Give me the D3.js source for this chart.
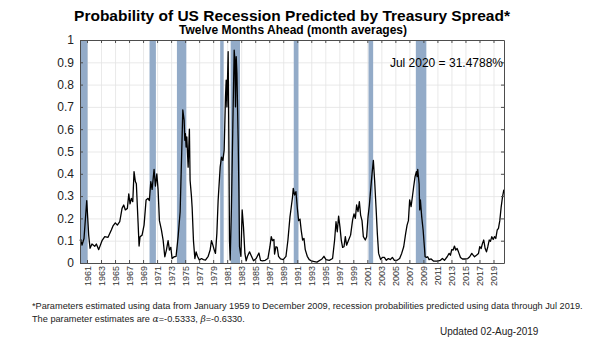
<!DOCTYPE html>
<html>
<head>
<meta charset="utf-8">
<script src="https://cdn.jsdelivr.net/npm/d3@7"></script>
<style>
body { margin: 0; background: #fff; }
text { font-family: Arial, "Liberation Sans", sans-serif; }
</style>
</head>
<body>
<div id="chart"></div>
<script>
// readings (decimal year, probability)
var years = [
    1960.00, 1960.10, 1960.29, 1960.57, 1960.96, 1961.24, 1961.43, 1961.71, 1962.10, 1962.33, 1962.67,
    1963.14, 1963.53, 1964.00, 1964.47, 1964.71, 1965.04, 1965.33, 1965.67, 1966.00, 1966.24, 1966.47,
    1966.76, 1966.96, 1967.14, 1967.33, 1967.53, 1967.71, 1967.90, 1968.04, 1968.29, 1968.43, 1968.57,
    1968.86, 1969.14, 1969.43, 1969.71, 1969.90, 1970.10, 1970.29, 1970.57, 1970.76, 1970.96, 1971.14,
    1971.33, 1971.61, 1971.86, 1972.10, 1972.33, 1972.57, 1972.76, 1972.96, 1973.14, 1973.43, 1973.71,
    1974.00, 1974.29, 1974.67, 1974.86, 1974.96, 1975.04, 1975.14, 1975.24, 1975.43, 1975.61, 1975.71,
    1975.90, 1976.00, 1976.19, 1976.39, 1976.57, 1976.76, 1977.04, 1977.33, 1977.61, 1977.90, 1978.29,
    1978.57, 1978.76, 1978.96, 1979.14, 1979.33, 1979.53, 1979.71, 1980.00, 1980.19, 1980.39, 1980.57,
    1980.76, 1980.86, 1980.96, 1981.14, 1981.24, 1981.33, 1981.43, 1981.61, 1981.81, 1982.00, 1982.10,
    1982.19, 1982.29, 1982.39, 1982.57, 1982.67, 1982.76, 1982.96, 1983.14, 1983.33, 1983.53, 1983.71,
    1983.90, 1984.19, 1984.47, 1984.76, 1985.14, 1985.53, 1985.76, 1986.04, 1986.43, 1986.81, 1987.10,
    1987.29, 1987.47, 1987.67, 1987.76, 1987.96, 1988.14, 1988.33, 1988.61, 1989.00, 1989.39, 1989.67,
    1989.96, 1990.14, 1990.33, 1990.43, 1990.61, 1990.81, 1991.00, 1991.19, 1991.39, 1991.57, 1991.76,
    1991.96, 1992.14, 1992.43, 1992.71, 1993.10, 1993.81, 1994.53, 1994.81, 1995.10, 1995.57, 1996.04,
    1996.33, 1996.53, 1996.71, 1996.90, 1997.10, 1997.29, 1997.47, 1997.67, 1997.86, 1998.04, 1998.33,
    1998.61, 1998.90, 1999.10, 1999.29, 1999.47, 1999.67, 1999.86, 2000.04, 2000.24, 2000.43, 2000.71,
    2000.90, 2001.10, 2001.29, 2001.47, 2001.67, 2001.86, 2002.04, 2002.24, 2002.43, 2002.61, 2002.90,
    2003.14, 2003.43, 2003.71, 2004.00, 2004.29, 2004.57, 2004.86, 2005.24, 2005.61, 2005.90, 2006.19,
    2006.47, 2006.67, 2006.86, 2007.04, 2007.24, 2007.43, 2007.61, 2007.81, 2008.00, 2008.10, 2008.19,
    2008.39, 2008.47, 2008.57, 2008.76, 2008.96, 2009.14, 2009.24, 2009.43, 2009.61, 2009.81, 2010.10,
    2010.47, 2010.96, 2011.43, 2011.71, 2012.00, 2012.39, 2012.67, 2012.86, 2013.04, 2013.24, 2013.43,
    2013.61, 2013.81, 2014.00, 2014.29, 2014.57, 2014.96, 2015.33, 2015.61, 2015.90, 2016.10, 2016.29,
    2016.57, 2016.86, 2017.04, 2017.24, 2017.43, 2017.61, 2017.81, 2018.00, 2018.19, 2018.39, 2018.57,
    2018.76, 2018.96, 2019.14, 2019.33, 2019.53, 2019.71, 2019.90, 2020.10, 2020.29, 2020.47, 2020.50
];
var probs = [
    0.100, 0.106, 0.080, 0.110, 0.280, 0.125, 0.066, 0.085, 0.075, 0.085, 0.060,
    0.100, 0.118, 0.115, 0.148, 0.166, 0.180, 0.170, 0.185, 0.245, 0.260, 0.238,
    0.245, 0.310, 0.265, 0.290, 0.275, 0.410, 0.365, 0.355, 0.178, 0.076, 0.118,
    0.125, 0.170, 0.283, 0.290, 0.280, 0.365, 0.330, 0.420, 0.345, 0.400, 0.330,
    0.190, 0.150, 0.103, 0.028, 0.058, 0.100, 0.058, 0.070, 0.020, 0.028, 0.030,
    0.118, 0.230, 0.686, 0.640, 0.550, 0.580, 0.520, 0.565, 0.430, 0.600, 0.370,
    0.300, 0.250, 0.100, 0.020, 0.050, 0.030, 0.013, 0.020, 0.015, 0.013, 0.030,
    0.058, 0.100, 0.080, 0.060, 0.043, 0.133, 0.280, 0.430, 0.475, 0.460, 0.506,
    0.746, 0.820, 0.700, 0.948, 0.550, 0.100, 0.013, 0.250, 0.620, 0.955, 0.910,
    0.700, 0.925, 0.850, 0.550, 0.330, 0.073, 0.030, 0.238, 0.160, 0.043, 0.010,
    0.030, 0.050, 0.030, 0.010, 0.020, 0.045, 0.012, 0.010, 0.012, 0.020, 0.073,
    0.118, 0.100, 0.106, 0.040, 0.073, 0.070, 0.030, 0.018, 0.015, 0.030, 0.103,
    0.207, 0.250, 0.297, 0.335, 0.305, 0.320, 0.250, 0.190, 0.197, 0.145, 0.103,
    0.110, 0.060, 0.030, 0.015, 0.008, 0.004, 0.018, 0.030, 0.015, 0.012, 0.020,
    0.103, 0.185, 0.140, 0.210, 0.160, 0.100, 0.070, 0.073, 0.118, 0.080, 0.103,
    0.125, 0.193, 0.220, 0.200, 0.260, 0.230, 0.275, 0.215, 0.190, 0.118, 0.103,
    0.118, 0.207, 0.260, 0.327, 0.400, 0.460, 0.370, 0.250, 0.130, 0.043, 0.015,
    0.025, 0.025, 0.012, 0.020, 0.015, 0.025, 0.012, 0.012, 0.020, 0.043, 0.073,
    0.133, 0.170, 0.190, 0.283, 0.253, 0.297, 0.342, 0.387, 0.410, 0.387, 0.420,
    0.355, 0.238, 0.283, 0.207, 0.148, 0.073, 0.028, 0.025, 0.028, 0.015, 0.018,
    0.008, 0.008, 0.012, 0.020, 0.012, 0.028, 0.043, 0.035, 0.060, 0.058, 0.076,
    0.058, 0.065, 0.050, 0.025, 0.018, 0.018, 0.020, 0.028, 0.043, 0.035, 0.028,
    0.035, 0.043, 0.073, 0.065, 0.088, 0.103, 0.065, 0.050, 0.073, 0.103, 0.097,
    0.118, 0.106, 0.118, 0.110, 0.148, 0.155, 0.190, 0.252, 0.297, 0.327, 0.315
];

// NBER recessions (shaded)
var recStart = [1960.00, 1969.92, 1973.83, 1980.00, 1981.50, 1990.50, 2001.17, 2007.92];
var recEnd   = [1961.08, 1970.83, 1975.17, 1980.50, 1982.83, 1991.17, 2001.83, 2009.42];

var xTicks = d3.range(1961, 2020, 2);
var yTicks = [0, 0.1, 0.2, 0.3, 0.4, 0.5, 0.6, 0.7, 0.8, 0.9, 1];

var W = 605, H = 341;
var plotL = 80, plotR = 504, plotT = 40, plotB = 263;

var svg = d3.select("#chart").append("svg")
    .attr("width", W)
    .attr("height", H);

var x = d3.scaleLinear().domain([1960, 2020.5]).range([plotL, plotR]);
var y = d3.scaleLinear().domain([0, 1]).range([plotB, plotT]);

// grid
svg.append("g")
    .attr("transform", "translate(0," + plotB + ")")
    .call(d3.axisBottom(x).tickValues(xTicks).tickSize(-(plotB - plotT)).tickFormat(""))
    .call(g => g.select(".domain").remove())
    .selectAll("line").attr("stroke", "#e3e3e3").attr("stroke-width", 0.8);
svg.append("g")
    .attr("transform", "translate(" + plotL + ",0)")
    .call(d3.axisLeft(y).tickValues(yTicks).tickSize(-(plotR - plotL)).tickFormat(""))
    .call(g => g.select(".domain").remove())
    .selectAll("line").attr("stroke", "#e3e3e3").attr("stroke-width", 0.8);

// recession bars
svg.selectAll("rect.rec")
    .data(recStart)
    .enter()
    .append("rect")
    .attr("class", "rec")
    .attr("x", function(d) { return x(d); })
    .attr("y", y(1))
    .attr("width", function(d, i) { return x(recEnd[i]) - x(d); })
    .attr("height", y(0) - y(1))
    .attr("fill", "#93abc8");

// line
var line = d3.line()
    .x(function(d) { return x(d); })
    .y(function(d, i) { return y(probs[i]); });

svg.append("path")
    .datum(years)
    .attr("d", line)
    .attr("fill", "none")
    .attr("stroke", "#000")
    .attr("stroke-width", 1.3)
    .attr("stroke-linejoin", "round");

// axes, ticks pointing in (box style)
var axCol = "#4d4d4d";
var xb = svg.append("g")
    .attr("class", "frame")
    .attr("transform", "translate(0," + plotB + ")")
    .call(d3.axisBottom(x).tickValues(xTicks).tickSize(-3).tickSizeOuter(0).tickFormat(d3.format("d")));
xb.selectAll("text")
    .attr("transform", "rotate(-90)")
    .attr("text-anchor", "end")
    .attr("x", -3)
    .attr("y", 0)
    .attr("dy", "0.35em")
    .style("font-size", "9px")
    .attr("fill", "#333");

svg.append("g")
    .attr("class", "frame")
    .attr("transform", "translate(0," + plotT + ")")
    .call(d3.axisTop(x).tickValues(xTicks).tickSize(-3).tickSizeOuter(0).tickFormat(""));

var yl = svg.append("g")
    .attr("class", "frame")
    .attr("transform", "translate(" + plotL + ",0)")
    .call(d3.axisLeft(y).tickValues(yTicks).tickSize(-3).tickSizeOuter(0).tickFormat(d3.format("")));
yl.selectAll("text")
    .attr("x", -6)
    .style("font-size", "12px")
    .attr("fill", "#222");

svg.append("g")
    .attr("class", "frame")
    .attr("transform", "translate(" + plotR + ",0)")
    .call(d3.axisRight(y).tickValues(yTicks).tickSize(-3).tickSizeOuter(0).tickFormat(""));

svg.selectAll(".frame .domain").attr("stroke", axCol);
svg.selectAll(".frame .tick line").attr("stroke", axCol);

// annotation
svg.append("text")
    .attr("x", plotR - 1)
    .attr("y", 67)
    .attr("text-anchor", "end")
    .style("font-size", "12px")
    .text("Jul 2020 = 31.4788%");

// titles
svg.append("text")
    .attr("x", 292)
    .attr("y", 21)
    .attr("text-anchor", "middle")
    .style("font-size", "15.5px")
    .style("font-weight", "bold")
    .text("Probability of US Recession Predicted by Treasury Spread*");

svg.append("text")
    .attr("x", 293)
    .attr("y", 34)
    .attr("text-anchor", "middle")
    .style("font-size", "12px")
    .style("font-weight", "bold")
    .text("Twelve Months Ahead (month averages)");

// footnote
svg.append("text")
    .attr("x", 32)
    .attr("y", 309)
    .style("font-size", "9.2px")
    .attr("fill", "#222")
    .text("*Parameters estimated using data from January 1959 to December 2009, recession probabilities predicted using data through Jul 2019.");

var fn2 = svg.append("text")
    .attr("x", 32)
    .attr("y", 322)
    .style("font-size", "9.2px")
    .attr("fill", "#222");
fn2.append("tspan").text("The parameter estimates are ");
fn2.append("tspan").style("font-family", "'DejaVu Serif', serif").style("font-style", "italic").text("\u03b1");
fn2.append("tspan").text("=-0.5333, ");
fn2.append("tspan").style("font-family", "'DejaVu Serif', serif").style("font-style", "italic").text("\u03b2");
fn2.append("tspan").text("=-0.6330.");

svg.append("text")
    .attr("x", 440)
    .attr("y", 335)
    .style("font-size", "10px")
    .attr("fill", "#222")
    .text("Updated 02-Aug-2019");
</script>
</body>
</html>
